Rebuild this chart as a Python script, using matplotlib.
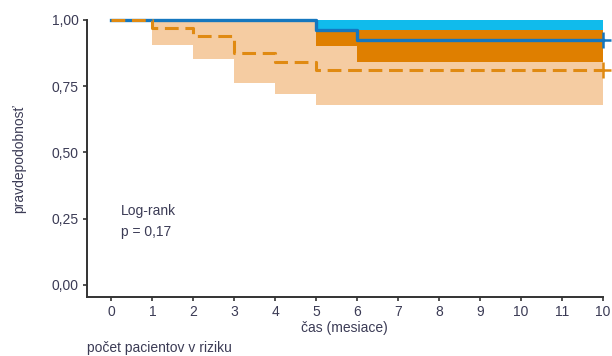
import matplotlib
matplotlib.use('Agg')
import matplotlib.pyplot as plt
import numpy as np

# krivky prezivania (Kaplan-Meier), hodnoty odcitane z obrazka
# casove hranice krokov (mesiace)
cas_modra = [0, 5, 6, 12]
km_modra = [1.00, 0.962, 0.925]
ci_modra_dole = [1.00, 0.90, 0.84]
ci_modra_hore = [1.00, 1.00, 1.00]

cas_oranz = [0, 1, 2, 3, 4, 5, 12]
km_oranz = [1.00, 0.97, 0.94, 0.875, 0.84, 0.81]
ci_oranz_dole = [1.00, 0.905, 0.853, 0.762, 0.72, 0.68]
ci_oranz_hore = [1.00, 1.00, 1.00, 1.00, 1.00, 0.962]

x_ticks = list(range(13))
x_labels = ['0', '1', '2', '3', '4', '5', '6', '7', '8', '9', '10', '11', '10']
y_ticks = [0, 0.25, 0.5, 0.75, 1.0]
y_labels = ['0,00', '0,25', '0,50', '0,75', '1,00']

modra = '#1577bf'
azur = '#10bbec'
oranz = '#e08a12'
tmava_oranz = '#df7f00'
broskyna = '#f5cca2'
text_farba = '#3b3b55'

plt.rcParams['font.family'] = ['Liberation Sans Narrow', 'Liberation Sans', 'DejaVu Sans']


def schody(cas, hodnoty):
    # rozvinie schodovu funkciu na body pre plot / fill_between
    xs, ys = [], []
    for i, v in enumerate(hodnoty):
        xs += [cas[i], cas[i + 1]]
        ys += [v, v]
    return xs, ys


fig = plt.figure(figsize=(6.12, 3.56), dpi=100)
ax = fig.add_axes([0.142, 0.166, 0.843, 0.778])

# intervaly spolahlivosti
xm, md = schody(cas_modra, ci_modra_dole)
_, mh = schody(cas_modra, ci_modra_hore)
xo, od = schody(cas_oranz, ci_oranz_dole)
_, oh = schody(cas_oranz, ci_oranz_hore)

ax.fill_between(xo, od, oh, color=broskyna, lw=0)
ax.fill_between(xm, md, mh, color=azur, lw=0)

# prekryv oboch intervalov
spolu = sorted(set(cas_modra) | set(cas_oranz))
prek_x, prek_d, prek_h = [], [], []
for a, b in zip(spolu[:-1], spolu[1:]):
    im = np.searchsorted(cas_modra, a, side='right') - 1
    io = np.searchsorted(cas_oranz, a, side='right') - 1
    d = max(ci_modra_dole[im], ci_oranz_dole[io])
    h = min(ci_modra_hore[im], ci_oranz_hore[io])
    if h < d:
        h = d
    prek_x += [a, b]
    prek_d += [d, d]
    prek_h += [h, h]
ax.fill_between(prek_x, prek_d, prek_h, color=tmava_oranz, lw=0)

# krivky
xk, yk = schody(cas_modra, km_modra)
ax.plot(xk, yk, color=modra, lw=2.4, clip_on=False, zorder=4)
xk, yk = schody(cas_oranz, km_oranz)
ax.plot(xk, yk, color=oranz, lw=2.2, ls=(0, (4.5, 2.2)), clip_on=False, zorder=5)

# cenzurovane znacky na konci
ax.plot([cas_modra[-1]], [km_modra[-1]], marker='+', ms=11, mew=1.8,
        color=modra, clip_on=False, zorder=6)
ax.plot([cas_oranz[-1]], [km_oranz[-1]], marker='+', ms=11, mew=1.8,
        color=oranz, clip_on=False, zorder=6)

ax.set_xlim(-0.6, 12.0)
ax.set_ylim(-0.045, 1.0)
ax.set_xticks(x_ticks)
ax.set_xticklabels(x_labels)
ax.set_yticks(y_ticks)
ax.set_yticklabels(y_labels)

for s in ['top', 'right']:
    ax.spines[s].set_visible(False)
for s in ['left', 'bottom']:
    ax.spines[s].set_linewidth(1.4)
    ax.spines[s].set_color('#333333')
ax.tick_params(direction='out', length=3, width=1.2, color='#333333',
               labelsize=10, labelcolor=text_farba, pad=3)

ax.set_ylabel('pravdepodobnosť', fontsize=10, color=text_farba, labelpad=18)
ax.set_xlabel('čas (mesiace)', fontsize=10, color=text_farba, labelpad=1)

ax.text(0.24, 0.28, 'Log-rank', fontsize=10, color=text_farba, va='center')
ax.text(0.24, 0.20, 'p = 0,17', fontsize=10, color=text_farba, va='center')

fig.text(0.142, 0.022, 'počet pacientov v riziku', fontsize=10,
         color=text_farba, va='center')

plt.savefig('out.png', dpi=100)
